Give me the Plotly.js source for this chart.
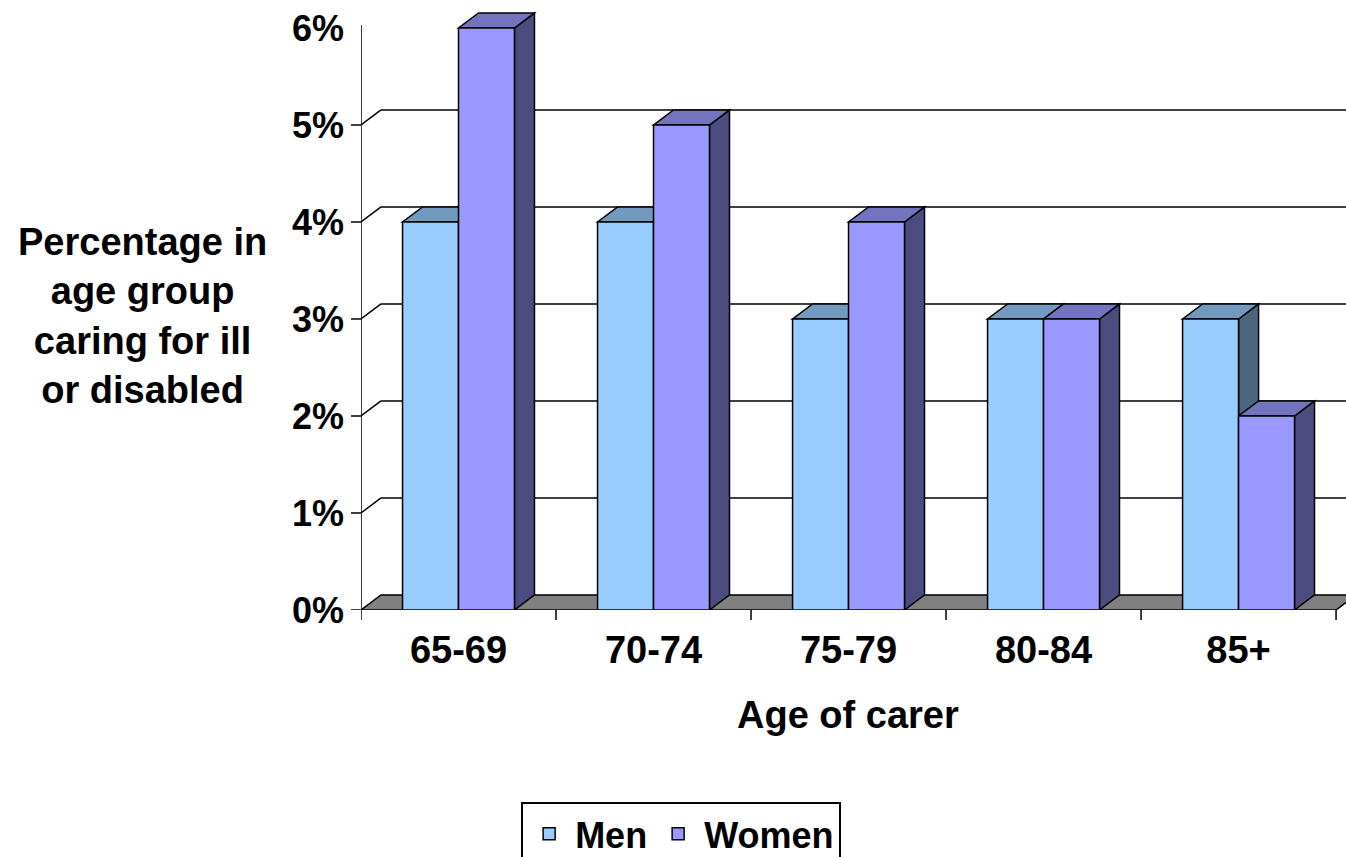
<!DOCTYPE html>
<html>
<head>
<meta charset="utf-8">
<script src="https://cdn.plot.ly/plotly-3.0.1.min.js"></script>
<style>
  html, body { margin: 0; padding: 0; background: #ffffff; }
  #chart { width: 1346px; height: 857px; }
</style>
</head>
<body>
<div id="chart"></div>
<script>
// Share of each age group caring for someone ill or disabled, by sex
const categories = ['65-69', '70-74', '75-79', '80-84', '85+'];
const menValues = [4, 4, 3, 3, 3];
const womenValues = [6, 5, 4, 3, 2];
const yTickValues = [0, 1, 2, 3, 4, 5, 6];
const yTickLabels = ['0%', '1%', '2%', '3%', '4%', '5%', '6%'];

// Colours of the fronts, tops and sides of the blocks
const menFront = '#99CCFF', menTop = '#7399BF', menSide = '#4C6680';
const womenFront = '#9999FF', womenTop = '#7373BF', womenSide = '#4C4C80';
const floorColour = '#808080';

// Block geometry in axis units
const barW = 0.287;        // width of one bar
const depthX = 0.1026;     // sideways shift of the back faces
const depthY = 0.155;      // upward shift of the back faces
const xMin = -0.5, xMax = 4.5;
const yTop = 6.03;         // top of the value axis line

const FONT = 'Liberation Sans, Arial, sans-serif';

function poly(pts, fill) {
  let d = 'M' + pts.map(p => p[0] + ',' + p[1]).join(' L') + ' Z';
  return {type: 'path', xref: 'x', yref: 'y', path: d, fillcolor: fill,
          line: {color: '#000', width: 1.5}, layer: 'below'};
}
function seg(x0, y0, x1, y1, xref, yref, w) {
  return {type: 'line', xref: xref, yref: yref, x0: x0, y0: y0, x1: x1, y1: y1,
          line: {color: '#000', width: w || 1.5}, layer: 'below'};
}

const shapes = [];
// floor
shapes.push(poly([[xMin, 0], [xMax, 0], [xMax + depthX, depthY], [xMin + depthX, depthY]], floorColour));
// back-wall gridlines with their slanted links to the front axis
yTickValues.forEach(v => {
  if (v === 0 || v === 6) return;
  shapes.push(seg(xMin, v, xMin + depthX, v + depthY, 'x', 'y'));
  shapes.push(seg(xMin + depthX, v + depthY, xMax + depthX, v + depthY, 'x', 'y'));
});
// value axis line and its ticks
shapes.push(seg(xMin, 0, xMin, yTop, 'x', 'y'));
yTickValues.forEach(v => {
  if (v === 6) return;
  shapes.push(seg(-10 / 985, v, 0, v, 'paper', 'y'));
});
// category boundary ticks under the floor edge
for (let i = 0; i <= categories.length; i++) {
  shapes.push(seg(xMin + i, 0, xMin + i, -10 / 605, 'x', 'paper'));
}
// tops and sides of each block
categories.forEach((c, i) => {
  const m = menValues[i], w = womenValues[i];
  const mx0 = i - barW, mx1 = i;
  const wx0 = i, wx1 = i + barW;
  shapes.push(poly([[mx1, 0], [mx1, m], [mx1 + depthX, m + depthY], [mx1 + depthX, depthY]], menSide));
  shapes.push(poly([[mx0, m], [mx1, m], [mx1 + depthX, m + depthY], [mx0 + depthX, m + depthY]], menTop));
  shapes.push(poly([[wx1, 0], [wx1, w], [wx1 + depthX, w + depthY], [wx1 + depthX, depthY]], womenSide));
  shapes.push(poly([[wx0, w], [wx1, w], [wx1 + depthX, w + depthY], [wx0 + depthX, w + depthY]], womenTop));
});

const xs = categories.map((c, i) => i);
const traces = [
  {type: 'bar', name: 'Men', x: xs, y: menValues, width: barW, offset: -barW,
   marker: {color: menFront, line: {color: '#000', width: 1.5}}, hoverinfo: 'skip'},
  {type: 'bar', name: 'Women', x: xs, y: womenValues, width: barW, offset: 0,
   marker: {color: womenFront, line: {color: '#000', width: 1.5}}, hoverinfo: 'skip'}
];

const layout = {
  width: 1346, height: 857,
  margin: {l: 361, r: 0, t: 5, b: 247, autoexpand: false},
  paper_bgcolor: '#ffffff', plot_bgcolor: '#ffffff',
  barmode: 'overlay',
  showlegend: true,
  font: {family: FONT, color: '#000'},
  xaxis: {
    range: [xMin, 4.551], tickvals: xs, ticktext: categories,
    showgrid: false, zeroline: false, showline: false, ticks: '',
    ticklabelstandoff: 14,
    tickfont: {family: FONT, size: 38, weight: 700, color: '#000'}
  },
  yaxis: {
    range: [0, 6.237], tickvals: yTickValues, ticktext: yTickLabels,
    showgrid: false, zeroline: false, showline: false, ticks: '',
    ticklabelstandoff: 16,
    tickfont: {family: FONT, size: 36, weight: 700, color: '#000'}
  },
  shapes: shapes,
  annotations: [
    {text: 'Age of carer', xref: 'paper', yref: 'paper', x: 0.4944, y: -0.1736,
     xanchor: 'center', yanchor: 'middle', showarrow: false,
     font: {family: FONT, size: 38, weight: 700, color: '#000'}},
    {text: 'Percentage in<br>age group<br>caring for ill<br>or disabled',
     xref: 'paper', yref: 'paper', x: -0.222, y: 0.486, align: 'center',
     xanchor: 'center', yanchor: 'middle', showarrow: false,
     font: {family: FONT, size: 38, weight: 700, color: '#000'}}
  ],
  legend: {
    orientation: 'h', x: 0.325, xanchor: 'center', y: -0.317, yanchor: 'top',
    bordercolor: '#000', borderwidth: 2, bgcolor: '#ffffff', itemwidth: 42,
    font: {family: FONT, size: 36, weight: 700, color: '#000'}
  }
};

Plotly.newPlot('chart', traces, layout, {staticPlot: true, displayModeBar: false});
</script>
</body>
</html>
